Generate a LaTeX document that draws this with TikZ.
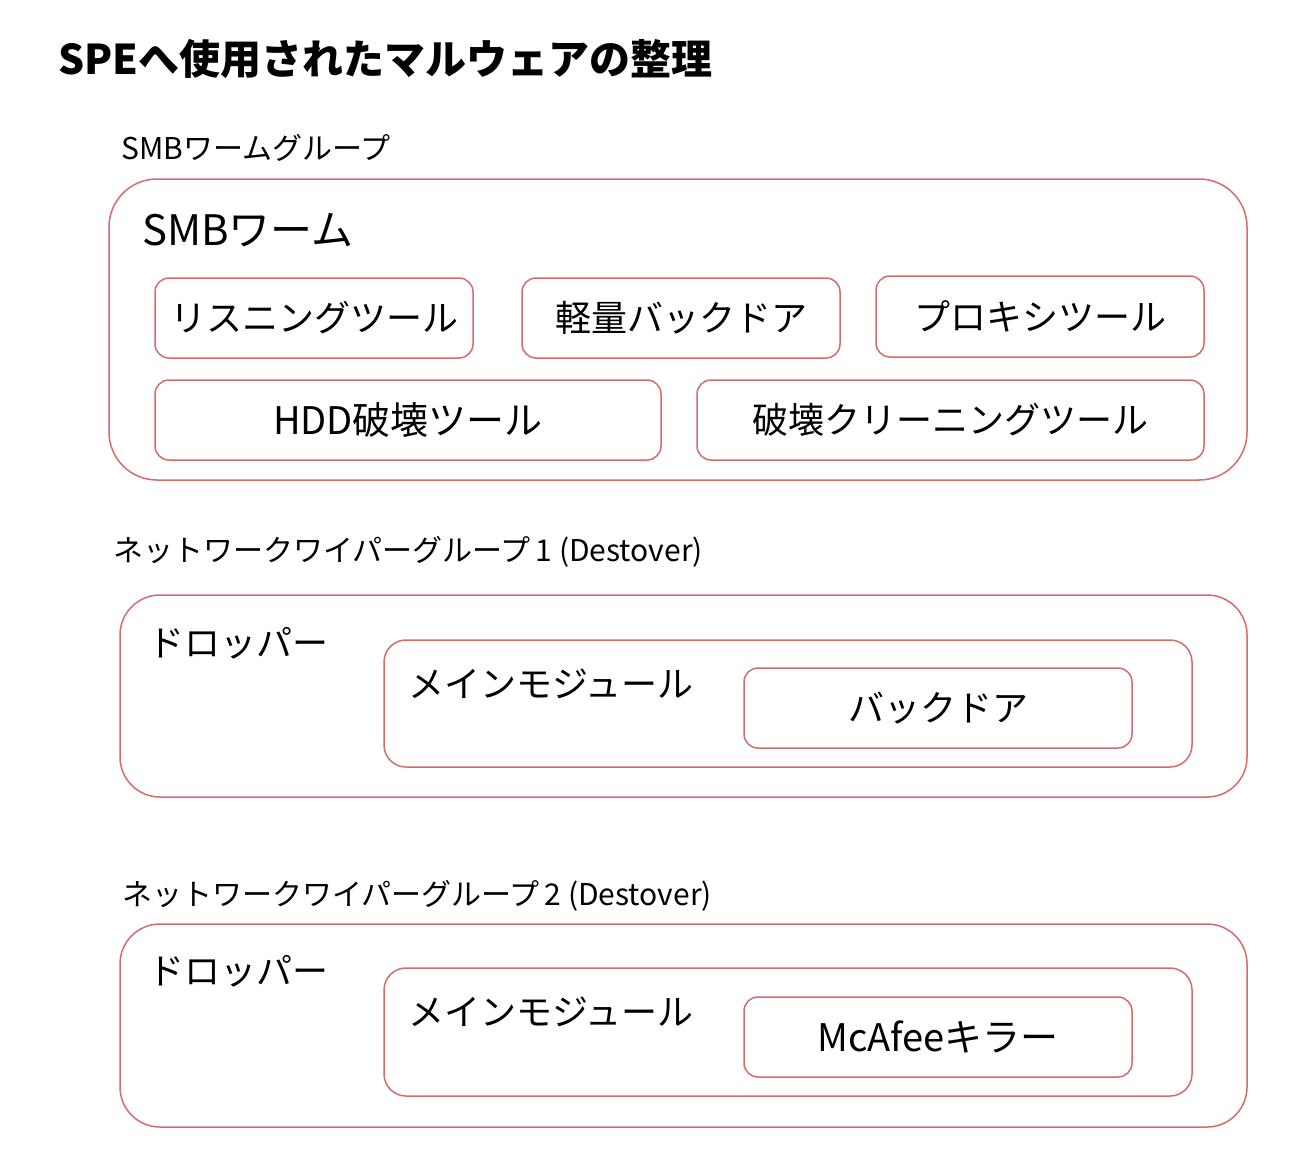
\documentclass[tikz,border=0pt]{standalone}
\usepackage{fontspec}
\setmainfont{Noto Sans CJK JP}
\definecolor{boxred}{RGB}{212,108,108}
\tikzset{
  box/.style={draw=boxred, line width=1.5pt, inner sep=0pt},
  bigbox/.style={box, rounded corners=48pt},
  midbox/.style={box, rounded corners=22pt},
  smallbox/.style={box, rounded corners=14pt, font=\fontsize{36}{38}\selectfont},
  lbl/.style={anchor=west, inner sep=0pt},
  grouplbl/.style={lbl, font=\fontsize{30}{32}\selectfont},
  boxlbl/.style={lbl, font=\fontsize{36}{38}\selectfont},
}
\begin{document}
\begin{tikzpicture}[x=1pt,y=-1pt]
\useasboundingbox (0,0) rectangle (1300,1172);
\node[lbl, font=\fontsize{41}{44}\selectfont\bfseries] (title) at (58,59) {SPEへ使用されたマルウェアの整理};

% SMB group
\node[grouplbl] (smblabel) at (121,148) {SMBワームグループ};
\node[bigbox, minimum width=1138pt, minimum height=301pt] (smb) at (678,329.5) {};
\node[lbl, font=\fontsize{42}{45}\selectfont] (smbworm) at (142,230) {SMBワーム};
\node[smallbox, minimum width=318pt, minimum height=80pt] (listen) at (314,318) {リスニングツール};
\node[smallbox, minimum width=318pt, minimum height=80pt] (light) at (681,318) {軽量バックドア};
\node[smallbox, minimum width=328pt, minimum height=81pt] (proxy) at (1040,316.5) {プロキシツール};
\node[smallbox, font=\fontsize{38}{40}\selectfont, minimum width=506pt, minimum height=80pt] (hdd) at (408,420) {HDD破壊ツール};
\node[smallbox, minimum width=507pt, minimum height=80pt] (clean) at (950.5,420) {破壊クリーニングツール};

% Group 1
\node[grouplbl] (g1label) at (113,552) {ネットワークワイパーグループ\,1 (Destover)};
\node[bigbox, rounded corners=40pt, minimum width=1127pt, minimum height=202pt] (g1) at (683.5,696) {};
\node[boxlbl] (drop1) at (148,643) {ドロッパー};
\node[midbox, minimum width=808pt, minimum height=127pt] (main1) at (788,703.5) {};
\node[boxlbl] (main1lbl) at (408,684) {メインモジュール};
\node[smallbox, minimum width=388pt, minimum height=80pt] (bd) at (938,708) {バックドア};

% Group 2
\node[grouplbl] (g2label) at (122,896) {ネットワークワイパーグループ\,2 (Destover)};
\node[bigbox, rounded corners=40pt, minimum width=1127pt, minimum height=203pt] (g2) at (683.5,1025.5) {};
\node[boxlbl] (drop2) at (148,971) {ドロッパー};
\node[midbox, minimum width=808pt, minimum height=128pt] (main2) at (788,1032) {};
\node[boxlbl] (main2lbl) at (408,1012) {メインモジュール};
\node[smallbox, font=\fontsize{38}{40}\selectfont, minimum width=388pt, minimum height=80pt] (mc) at (938,1037) {McAfeeキラー};
\end{tikzpicture}
\end{document}
